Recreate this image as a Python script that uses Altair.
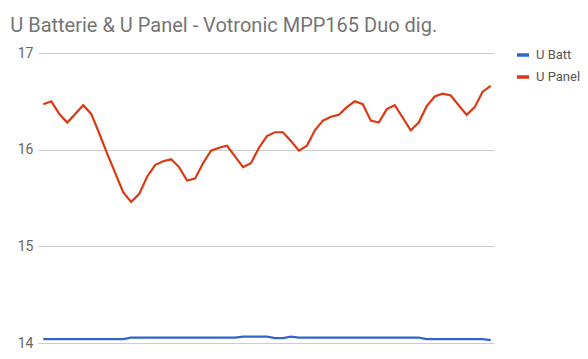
import altair as alt
import pandas as pd

title_text = "U Batterie & U Panel - Votronic MPP165 Duo dig."
series_names = ["U Batt", "U Panel"]
series_colors = ["#3366cc", "#dc3912"]

u_panel = [16.47, 16.50, 16.37, 16.28, 16.37, 16.46, 16.37, 16.17, 15.96, 15.76,
           15.56, 15.46, 15.54, 15.72, 15.84, 15.88, 15.90, 15.82, 15.68, 15.70,
           15.86, 15.99, 16.02, 16.04, 15.93, 15.82, 15.86, 16.02, 16.14, 16.18,
           16.18, 16.09, 15.99, 16.04, 16.20, 16.30, 16.34, 16.36, 16.44, 16.50,
           16.47, 16.30, 16.28, 16.42, 16.46, 16.33, 16.20, 16.28, 16.45, 16.55,
           16.58, 16.56, 16.46, 16.36, 16.44, 16.60, 16.66]

u_batt = [14.04, 14.04, 14.04, 14.04, 14.04, 14.04, 14.04, 14.04, 14.04, 14.04,
          14.04, 14.055, 14.055, 14.055, 14.055, 14.055, 14.055, 14.055, 14.055, 14.055,
          14.055, 14.055, 14.055, 14.055, 14.055, 14.065, 14.065, 14.065, 14.065, 14.05,
          14.05, 14.065, 14.055, 14.055, 14.055, 14.055, 14.055, 14.055, 14.055, 14.055,
          14.055, 14.055, 14.055, 14.055, 14.055, 14.055, 14.055, 14.055, 14.04, 14.04,
          14.04, 14.04, 14.04, 14.04, 14.04, 14.04, 14.03]

y_ticks = [14, 15, 16, 17]

idx = list(range(len(u_panel)))
df = pd.concat([
    pd.DataFrame({"i": idx, "v": u_batt, "s": series_names[0]}),
    pd.DataFrame({"i": idx, "v": u_panel, "s": series_names[1]}),
])

chart = alt.Chart(df).mark_line(strokeWidth=2.2).encode(
    x=alt.X("i:Q", axis=None,
            scale=alt.Scale(domain=[-0.66, 56.42], nice=False, zero=False)),
    y=alt.Y("v:Q", title=None,
            scale=alt.Scale(domain=[14, 17], nice=False, zero=False),
            axis=alt.Axis(values=y_ticks, domain=False, ticks=False,
                          gridColor="#cccccc", labelPadding=5,
                          labelFont="Roboto", labelFontSize=14,
                          labelColor="#666666")),
    color=alt.Color("s:N", title=None,
                    scale=alt.Scale(domain=series_names, range=series_colors),
                    legend=alt.Legend(orient="none", legendX=477, legendY=-6,
                                      symbolType="stroke", symbolSize=144,
                                      symbolStrokeWidth=3.5,
                                      labelFont="Roboto", labelFontSize=13,
                                      labelColor="#555555", rowPadding=7,
                                      labelOffset=5)),
).properties(
    width=456,
    height=290,
    title=alt.TitleParams(title_text, anchor="start", font="Roboto",
                          fontSize=20, fontWeight="normal", color="#757575",
                          dx=-7, dy=24, offset=18, baseline="alphabetic"),
    autosize="none",
    padding={"left": 38, "top": 53, "right": 94, "bottom": 16},
).configure_view(stroke=None)

chart.save("out.html", embed_options={"renderer": "svg", "actions": False})
